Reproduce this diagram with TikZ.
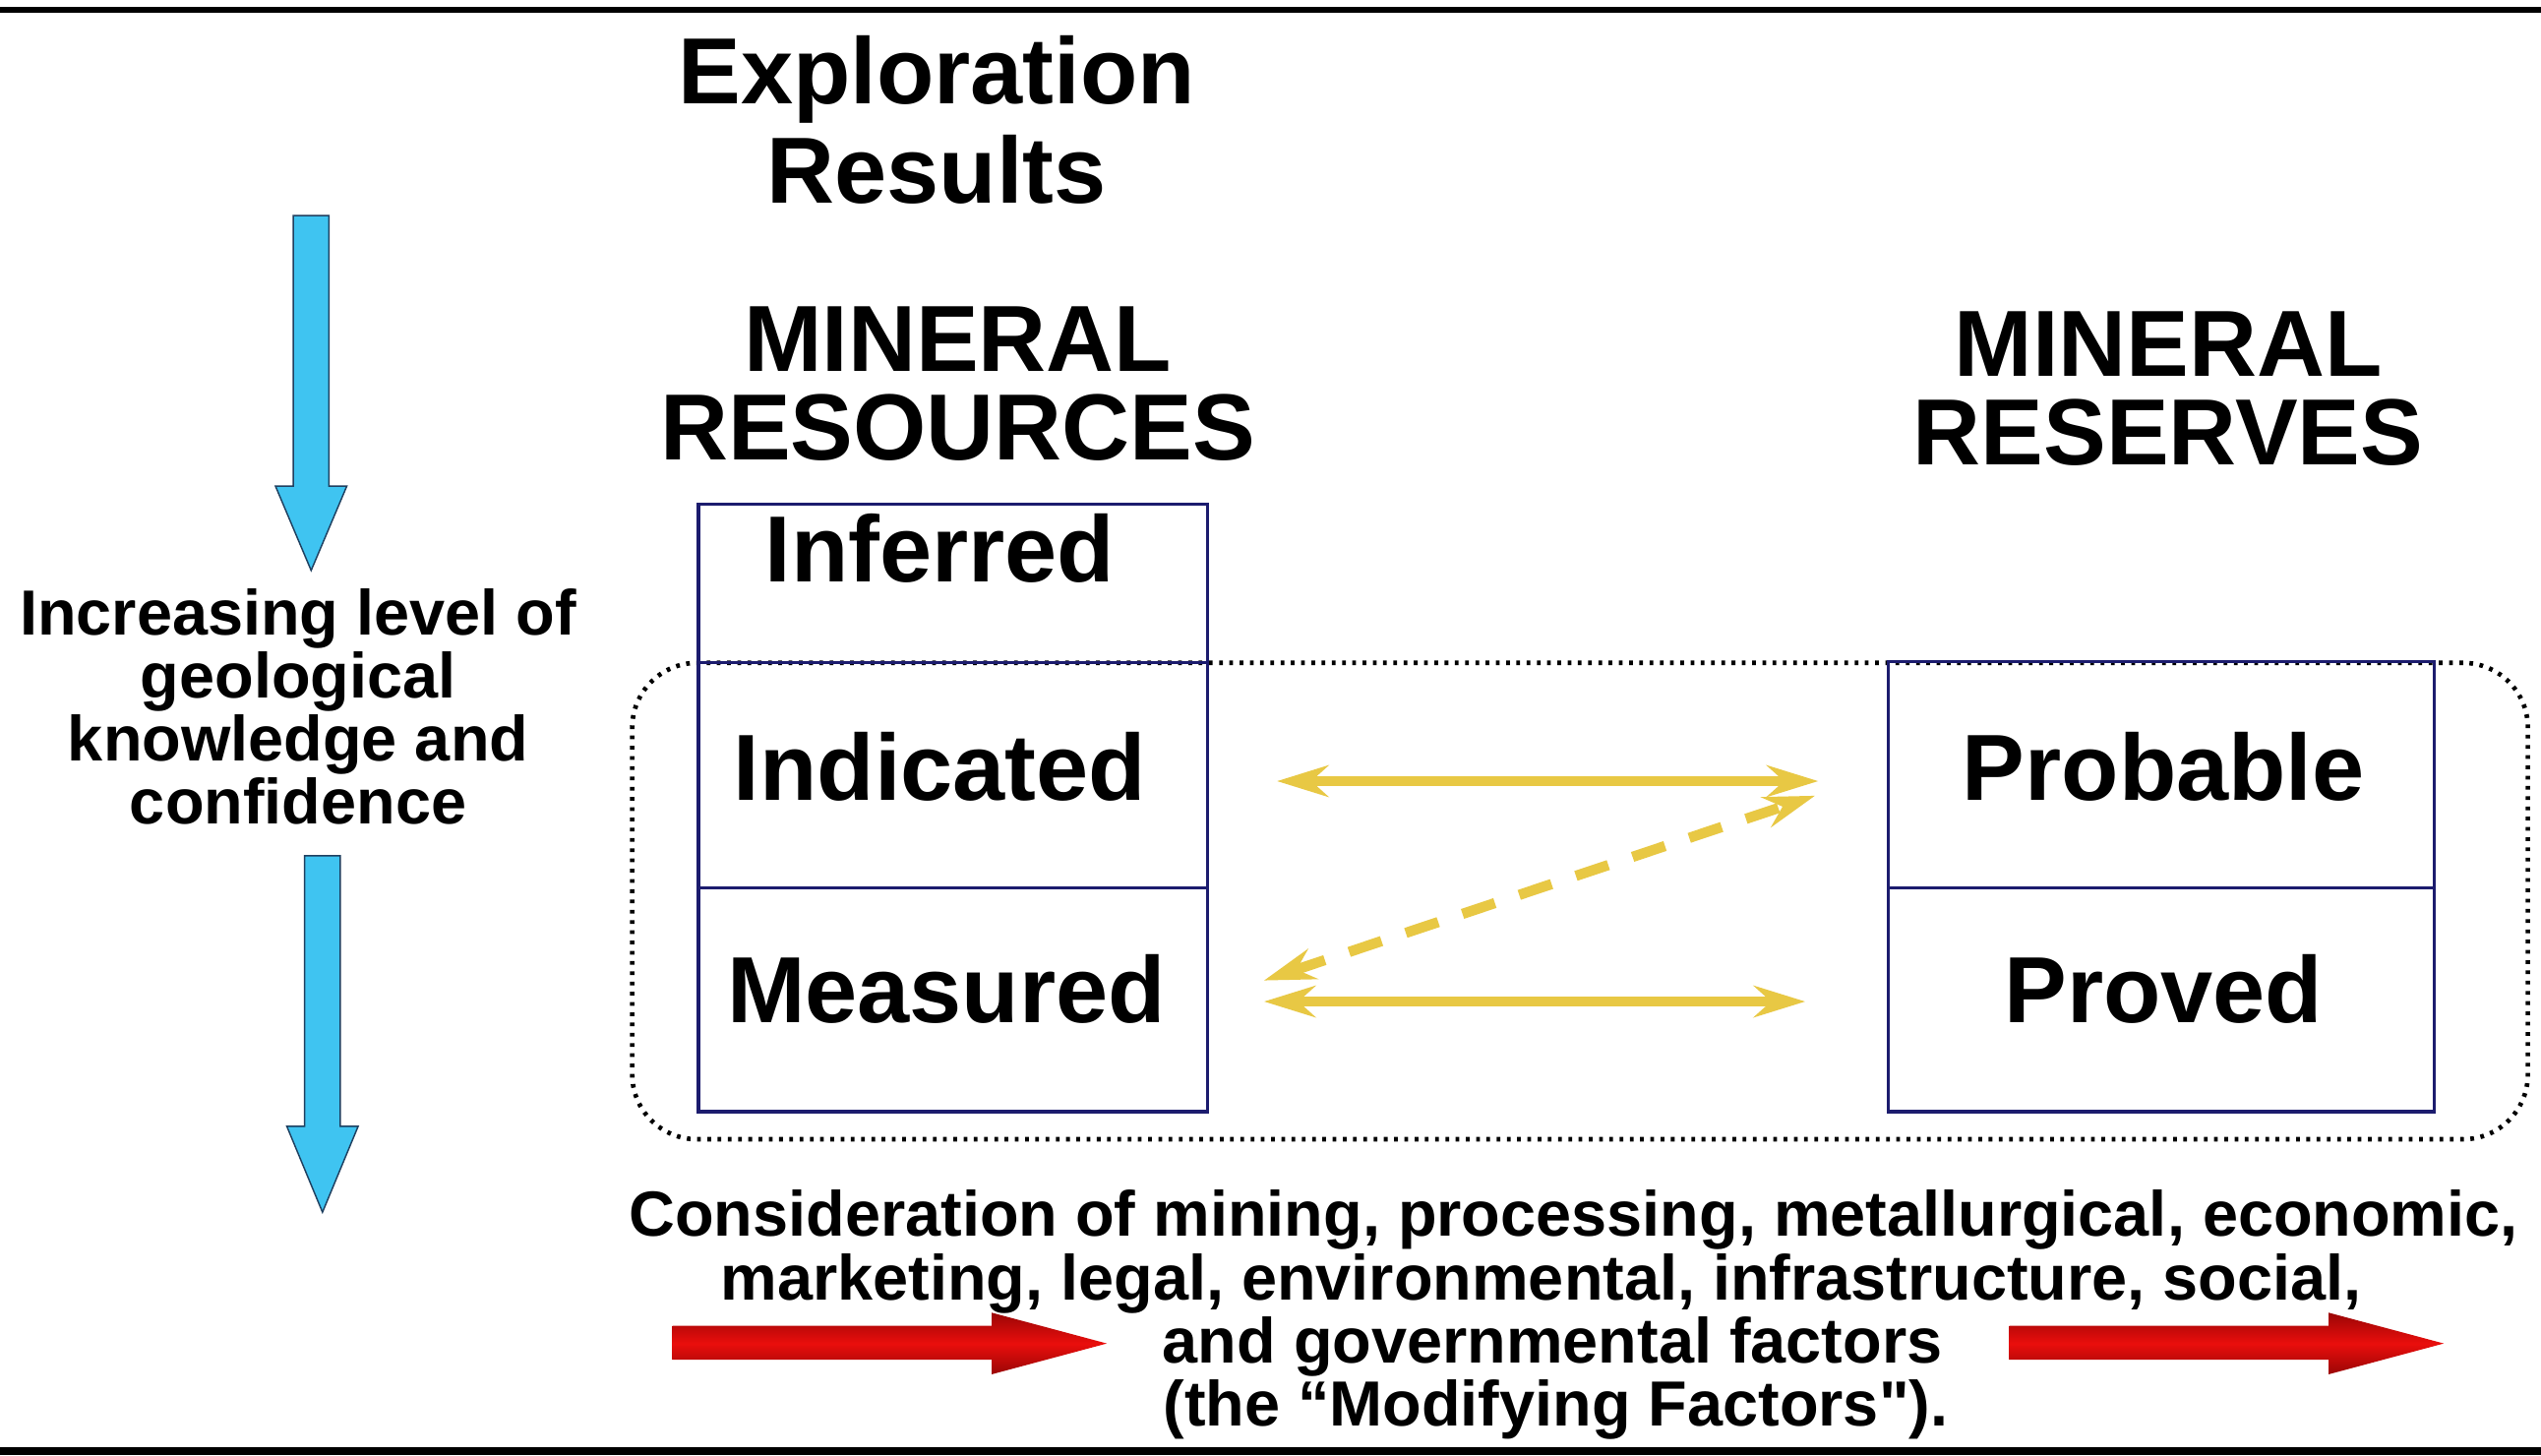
\documentclass[tikz,border=0pt]{standalone}
\usepackage{fontspec}
\setmainfont{Liberation Sans}
\usetikzlibrary{arrows.meta}
\definecolor{navy}{HTML}{1C1C6E}
\definecolor{skyb}{HTML}{3FC4F1}
\definecolor{skyline}{HTML}{1F4060}
\definecolor{gold}{HTML}{E8C844}
\definecolor{redarr}{HTML}{EA0E0C}
\definecolor{reddark}{HTML}{9A0606}
\tikzset{
  hdr/.style={font=\fontsize{33}{31}\selectfont\bfseries, align=center, inner sep=0pt},
  boxlbl/.style={font=\fontsize{33}{31}\selectfont\bfseries, inner sep=0pt, anchor=base},
  sidetxt/.style={font=\fontsize{22.4}{22.1}\selectfont\bfseries, align=center, inner sep=0pt},
  linetxt/.style={font=\fontsize{22.4}{22.1}\selectfont\bfseries, inner sep=0pt, anchor=base},
  catbox/.style={draw=navy, line width=1.1pt, rectangle, inner sep=0pt},
  grp/.style={draw=black, line width=1.6pt, dash pattern=on 1.3pt off 2.3pt, rounded corners=0.8cm, rectangle, inner sep=0pt},
  yarrow/.style={draw=gold, line width=3.6pt, {Stealth[length=18pt,width=11pt,inset=6pt]}-{Stealth[length=18pt,width=11pt,inset=6pt]}},
  blueshape/.style={fill=skyb, draw=skyline, line width=0.5pt},
  redshape/.style={top color=reddark, bottom color=reddark, middle color=redarr, draw=none}
}
\begin{document}
\begin{tikzpicture}[x=0.02cm,y=-0.02cm]
\useasboundingbox (0,0) rectangle (1568,898);
\fill[white] (0,0) rectangle (1568,898);
% frame lines
\fill[black] (0,4) rectangle (1568,8);
\fill[black] (0,893) rectangle (1568,898);

% headings
\node[hdr] (expl) at (578,74) {Exploration\\[4pt]Results};
\node[hdr] (mres) at (591,237) {MINERAL\\RESOURCES};
\node[hdr] (mrsv) at (1338,240) {MINERAL\\RESERVES};

% group outline
\node[grp, minimum width=23.4cm, minimum height=5.88cm] (group) at (975,556) {};

% boxes
\node[catbox, minimum width=6.28cm, minimum height=1.96cm] (inf) at (588,360) {};
\node[catbox, minimum width=6.28cm, minimum height=2.78cm] (ind) at (588,478.5) {};
\node[catbox, minimum width=6.28cm, minimum height=2.76cm] (mea) at (588,617) {};
\node[catbox, minimum width=6.74cm, minimum height=2.80cm] (pro) at (1333.5,478) {};
\node[catbox, minimum width=6.74cm, minimum height=2.76cm] (prv) at (1333.5,617) {};

\node[boxlbl] (tinf) at (580,359) {Inferred};
\node[boxlbl] (tind) at (580,494) {Indicated};
\node[boxlbl] (tmea) at (584,631) {Measured};
\node[boxlbl] (tpro) at (1335,494) {Probable};
\node[boxlbl] (tprv) at (1335,631) {Proved};

% yellow connectors
\coordinate (a1) at (788,482);
\coordinate (b1) at (1122,482);
\coordinate (a2) at (780,618);
\coordinate (b2) at (1114,618);
\coordinate (a3) at (780,605);
\coordinate (b3) at (1120,491);
\draw[yarrow] (a1) -- (b1);
\draw[yarrow] (a2) -- (b2);
\draw[yarrow, dash pattern=on 12pt off 9pt] (a3) -- (b3);

% left text and blue arrows
\node[sidetxt] (conf) at (184,436) {Increasing level of\\geological\\knowledge and\\confidence};
\draw[blueshape] (181,133) -- (203,133) -- (203,300) -- (214,300) -- (192,352) -- (170,300) -- (181,300) -- cycle;
\draw[blueshape] (188,528) -- (210,528) -- (210,695) -- (221,695) -- (199,748) -- (177,695) -- (188,695) -- cycle;

% bottom text and red arrows
\node[linetxt] (mod1) at (971,763) {Consideration of mining, processing, metallurgical, economic,};
\node[linetxt] (mod2) at (951,802) {marketing, legal, environmental, infrastructure, social,};
\node[linetxt] (mod3) at (958,841) {and governmental factors};
\node[linetxt] (mod4) at (960,880) {(the \textquotedblleft Modifying Factors\textquotedbl).};
\shade[redshape] (415,818) -- (612,818) -- (612,810) -- (683,829) -- (612,848) -- (612,839) -- (415,839) -- cycle;
\shade[redshape] (1240,818) -- (1437,818) -- (1437,810) -- (1508,829) -- (1437,848) -- (1437,839) -- (1240,839) -- cycle;
\end{tikzpicture}
\end{document}
